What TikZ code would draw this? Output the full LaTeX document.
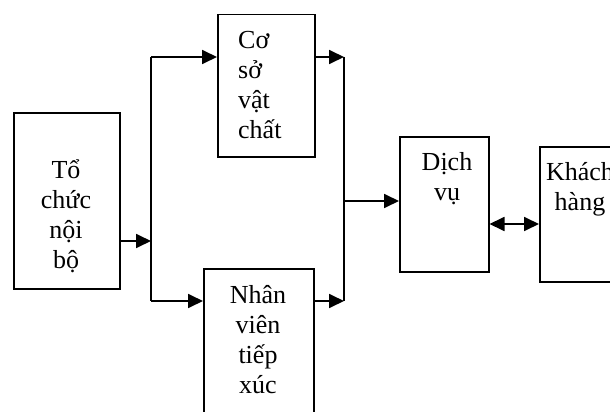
\documentclass[tikz,border=0pt]{standalone}
\usepackage{fontspec}
\setmainfont{Liberation Serif}
\usetikzlibrary{arrows.meta}
\tikzset{
  box/.style={draw, line width=1.5pt, inner sep=0pt, anchor=north west},
  lbl/.style={font=\fontsize{26}{30}\selectfont, inner sep=0pt, anchor=base},
  conn/.style={line width=1.8pt},
  arr/.style={conn, -{Triangle[length=15pt,width=14pt]}},
  darr/.style={conn, {Triangle[length=15pt,width=14pt]}-{Triangle[length=15pt,width=14pt]}}
}
\begin{document}
\begin{tikzpicture}[x=1pt,y=-1pt]
\useasboundingbox (0,0) rectangle (610,412);
\clip (0,0) rectangle (610,412);
% boxes
\node[box, minimum width=106pt, minimum height=176pt] (org) at (13,112) {};
\node[box, minimum width=97pt, minimum height=142pt] (csvc) at (217,14) {};
\node[box, minimum width=110pt, minimum height=170pt] (nv) at (203,268) {};
\node[box, minimum width=89pt, minimum height=135pt] (dv) at (399,136) {};
\node[box, minimum width=110pt, minimum height=135pt] (kh) at (539,146) {};
% texts (anchor base = baseline of the last line)
\node[lbl, align=center] (torg) at (66,268) {Tổ\\chức\\nội\\bộ};
\node[lbl, align=left, anchor=base west] (tcsvc) at (238,138) {Cơ\\sở\\vật\\chất};
\node[lbl, align=center] (tnv) at (258,393) {Nhân\\viên\\tiếp\\xúc};
\node[lbl, align=center] (tdv) at (447,200) {Dịch\\vụ};
\node[lbl, align=center] (tkh) at (580,210) {Khách\\hàng};
% junction coordinates
\coordinate (j1) at (151,241);
\coordinate (j1t) at (151,57);
\coordinate (j1b) at (151,301);
\coordinate (j2t) at (344,57);
\coordinate (j2b) at (344,301);
\coordinate (j2m) at (344,201);
% connectors
\draw[arr] (org.east |- j1) -- (j1);
\draw[conn] (j1t) -- (j1b);
\draw[arr] (j1t) -- (csvc.west |- j1t);
\draw[arr] (j1b) -- (nv.west |- j1b);
\draw[arr] (csvc.east |- j2t) -- (j2t);
\draw[arr] (nv.east |- j2b) -- (j2b);
\draw[conn] (j2t) -- (j2b);
\draw[arr] (j2m) -- (dv.west |- j2m);
\draw[darr] (dv.east |- 0,224) -- (kh.west |- 0,224);
\end{tikzpicture}
\end{document}
